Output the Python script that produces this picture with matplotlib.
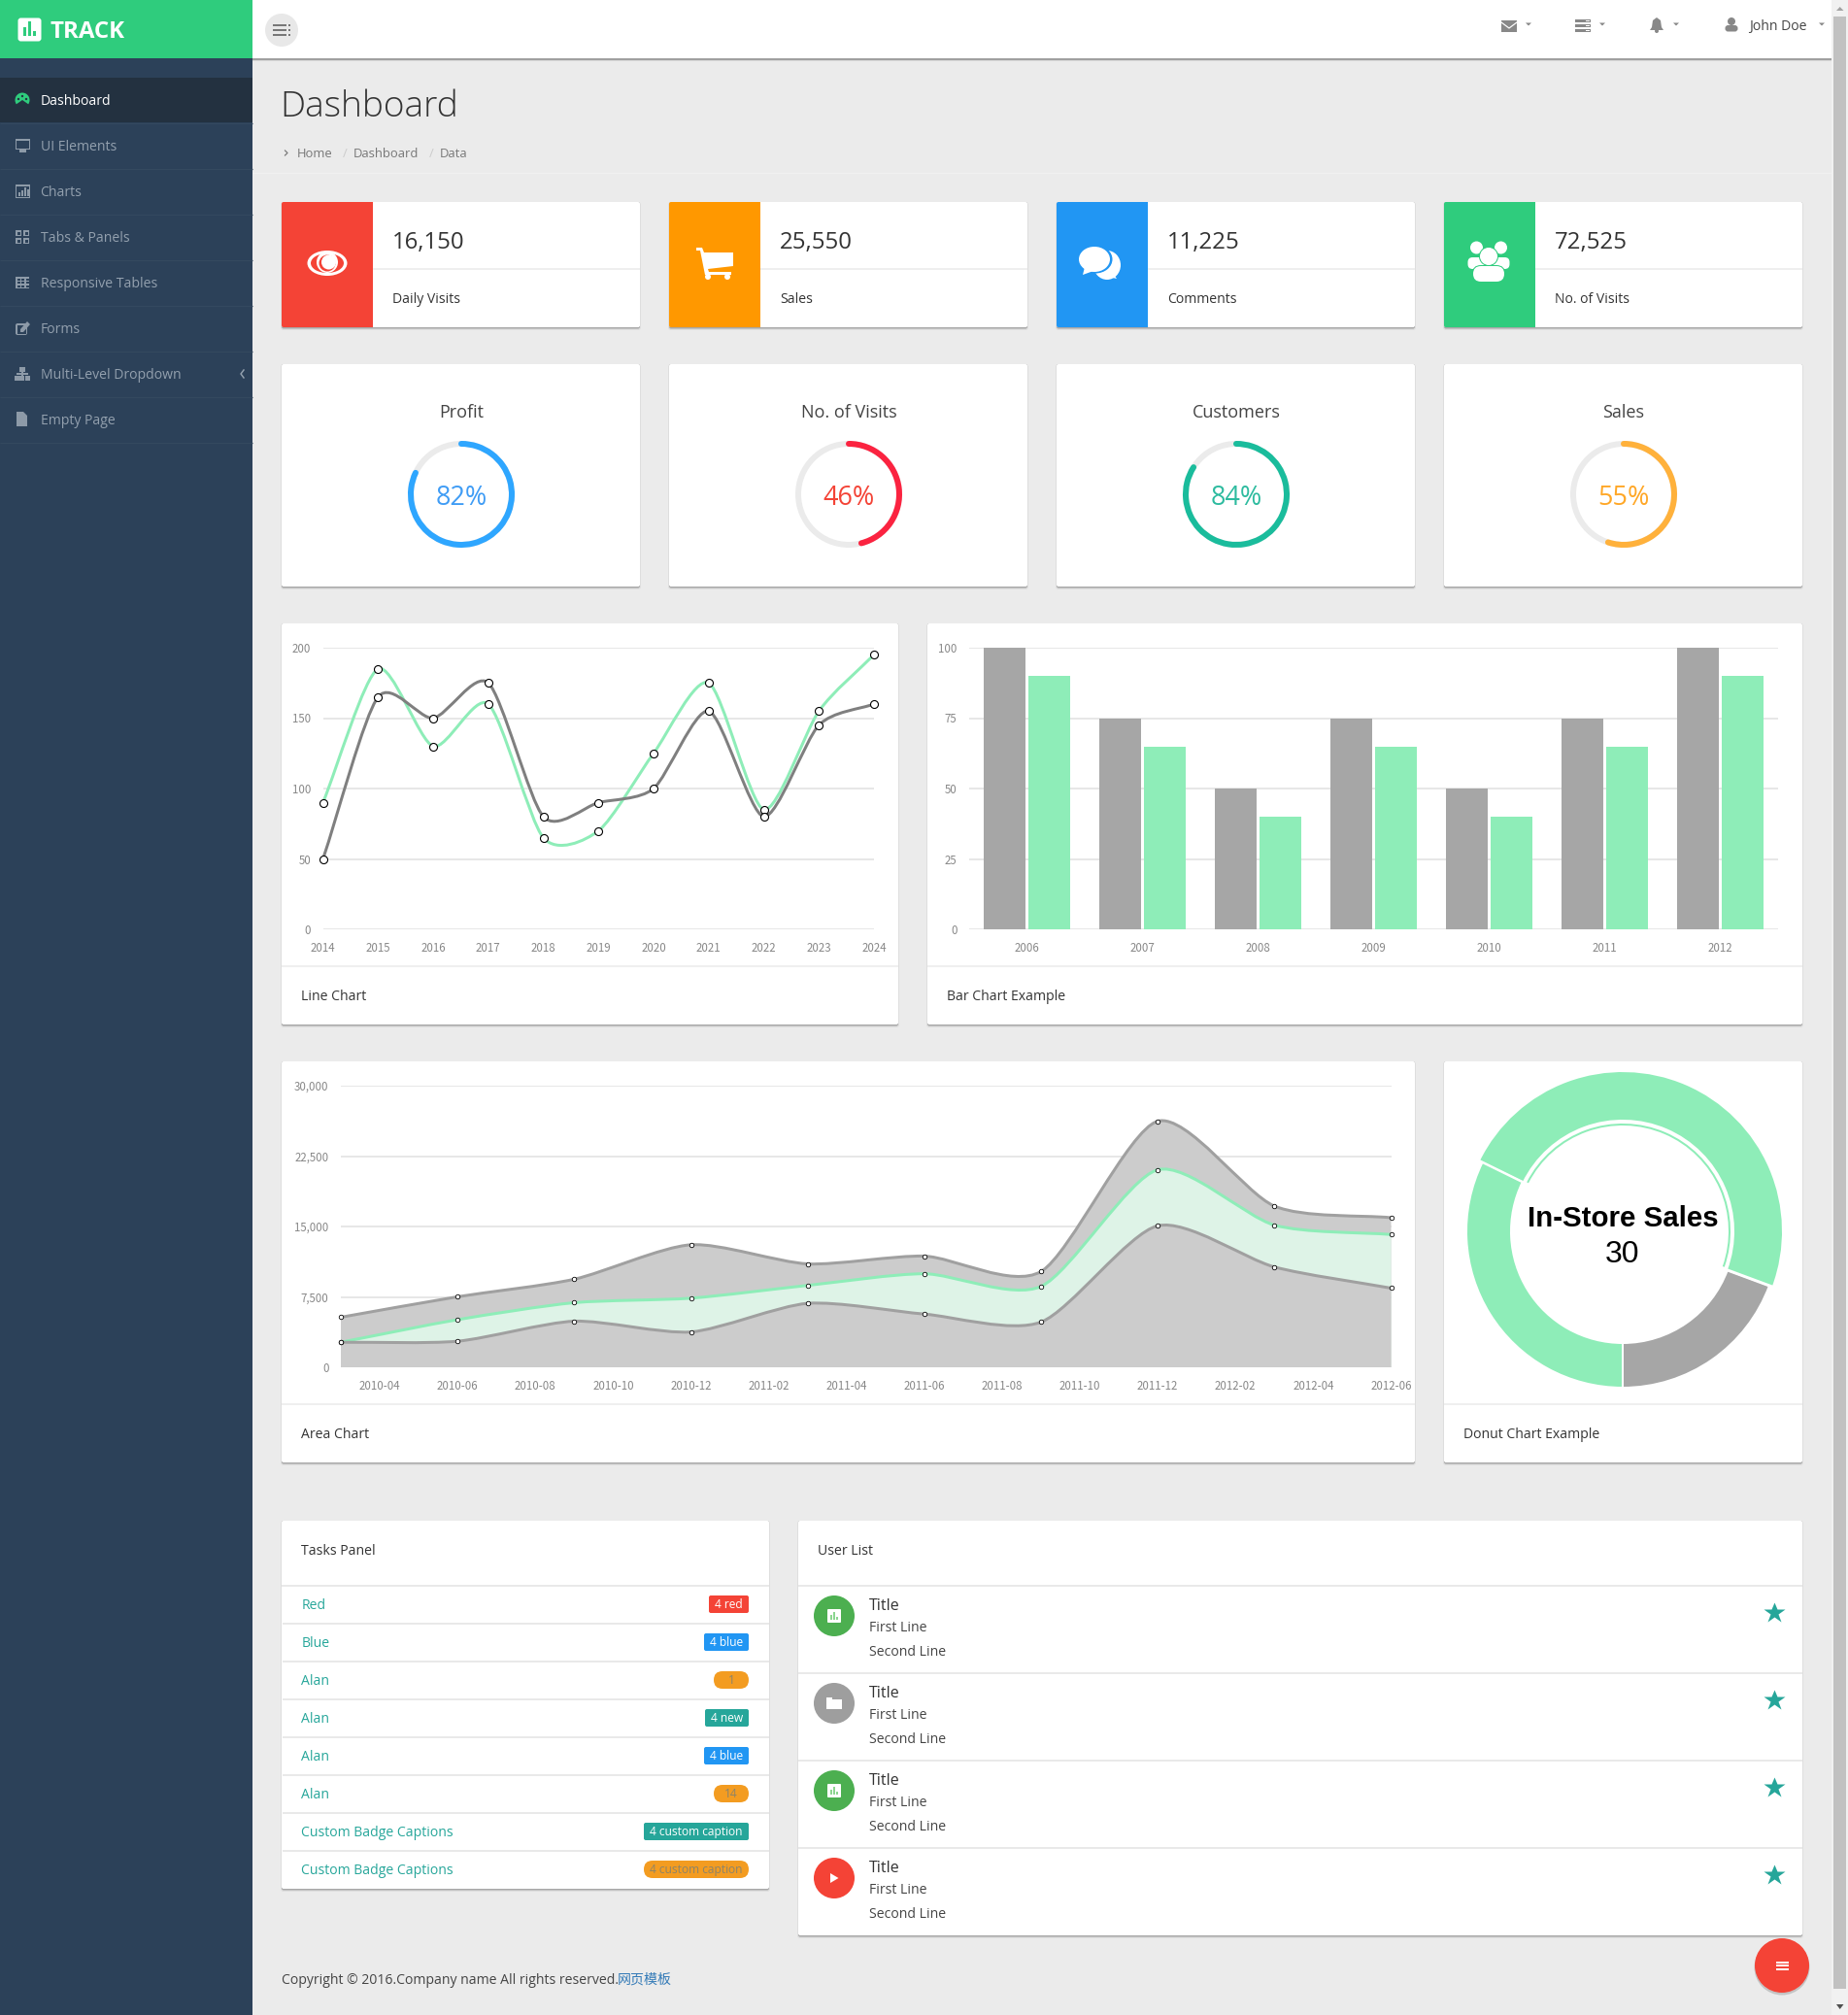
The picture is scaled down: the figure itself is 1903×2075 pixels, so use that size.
import numpy as np
import matplotlib
matplotlib.use('Agg')
import matplotlib.pyplot as plt
from matplotlib.patches import Rectangle, FancyBboxPatch, Circle, Ellipse, Arc, Wedge, Polygon, PathPatch
from matplotlib.path import Path

W, H = 1903, 2075
UI_FONT = ['Open Sans', 'DejaVu Sans']
TICK_FONT = ['Noto Sans CJK SC', 'DejaVu Sans']
CJK_FONT = ['Noto Sans CJK SC', 'DejaVu Sans']

GREEN = '#8eedb8'
GRAY = '#a6a6a6'
TEAL = '#26a69a'
PAGE_BG = '#ebebeb'
SIDE_BG = '#2c4159'
BRAND = '#2fcc7d'

MENU_ITEMS = ['Dashboard', 'UI Elements', 'Charts', 'Tabs & Panels', 'Responsive Tables',
              'Forms', 'Multi-Level Dropdown', 'Empty Page']
STAT_VALUES = ['16,150', '25,550', '11,225', '72,525']
STAT_LABELS = ['Daily Visits', 'Sales', 'Comments', 'No. of Visits']
STAT_COLORS = ['#f44336', '#ff9800', '#2196f3', BRAND]

GAUGE_TITLES = ['Profit', 'No. of Visits', 'Customers', 'Sales']
GAUGE_VALUES = [82, 46, 84, 55]
GAUGE_COLORS = ['#2ea6ff', '#fb2340', '#1abc9c', '#ffb13b']
GAUGE_TEXT_COLORS = ['#3f9cf5', '#f44336', '#2dbb9f', '#ffa726']

LINE_YEARS = [2014, 2015, 2016, 2017, 2018, 2019, 2020, 2021, 2022, 2023, 2024]
LINE_GREEN = [90, 185, 130, 160, 65, 70, 125, 175, 85, 155, 195]
LINE_GRAY = [50, 165, 150, 175, 80, 90, 100, 155, 80, 145, 160]
LINE_TICKS = [0, 50, 100, 150, 200]

BAR_YEARS = ['2006', '2007', '2008', '2009', '2010', '2011', '2012']
BAR_GRAY = [100, 75, 50, 75, 50, 75, 100]
BAR_GREEN = [90, 65, 40, 65, 40, 65, 90]
BAR_TICKS = [0, 25, 50, 75, 100]

AREA_DATES = ['2010-03', '2010-06', '2010-09', '2010-12', '2011-03',
              '2011-06', '2011-09', '2011-12', '2012-03', '2012-06']
AREA_BOTTOM = [2666, 2778, 4912, 3767, 6810, 5670, 4820, 15073, 10687, 8432]
AREA_MIDDLE = [0, 2294, 1969, 3597, 1914, 4293, 3795, 5967, 4460, 5713]
AREA_UPPER = [2666, 2441, 2501, 5689, 2293, 1881, 1588, 5175, 2028, 1791]
AREA_TICKS = [0, 7500, 15000, 22500, 30000]
AREA_LABELS = ['2010-04', '2010-06', '2010-08', '2010-10', '2010-12', '2011-02', '2011-04',
               '2011-06', '2011-08', '2011-10', '2011-12', '2012-02', '2012-04', '2012-06']

DONUT_LABELS = ['Download Sales', 'In-Store Sales', 'Mail-Order Sales']
DONUT_VALUES = [12, 30, 20]
DONUT_COLORS = [GRAY, GREEN, GREEN]

TASK_NAMES = ['Red', 'Blue', 'Alan', 'Alan', 'Alan', 'Alan', 'Custom Badge Captions', 'Custom Badge Captions']
TASK_BADGES = ['4 red', '4 blue', '1', '4 new', '4 blue', '14', '4 custom caption', '4 custom caption']
TASK_COLORS = ['#f44336', '#2196f3', '#f39c21', TEAL, '#2196f3', '#f39c21', TEAL, '#f39c21']
BADGE_WIDTHS = [41, 46, 36, 45, 46, 36, 108, 108]

USER_COLORS = ['#4caf50', '#9e9e9e', '#4caf50', '#f44336']
USER_ICONS = ['chart', 'folder', 'chart', 'play']


def fs(px):
    return px * 0.72


def axes_px(x0, y0, x1, y1):
    return fig.add_axes([x0 / W, 1 - y1 / H, (x1 - x0) / W, (y1 - y0) / H])


def smooth_path(x, y):
    # hermite segments, same tangents as the morris charts in the page
    x = np.asarray(x, dtype=float)
    y = np.asarray(y, dtype=float)
    grad = np.gradient(y, x, edge_order=1)
    grad[1:-1] = (y[2:] - y[:-2]) / (x[2:] - x[:-2])
    verts = [(x[0], y[0])]
    codes = [Path.MOVETO]
    for i in range(1, len(x)):
        ix = (x[i] - x[i - 1]) / 4
        verts += [(x[i - 1] + ix, y[i - 1] + ix * grad[i - 1]),
                  (x[i] - ix, y[i] - ix * grad[i]),
                  (x[i], y[i])]
        codes += [Path.CURVE4] * 3
    return verts, codes


def text(x, y, s, px=14, color='#333333', ha='left', weight='normal', family=None):
    bg.text(x, y - 0.6, s, fontsize=fs(px), color=color, ha=ha, va='center_baseline', fontweight=weight,
            family=family or UI_FONT)


def rect(x0, y0, x1, y1, color, z=2):
    bg.add_patch(Rectangle((x0, y0), x1 - x0, y1 - y0, fc=color, ec='none', zorder=z))


def rbox(x0, y0, x1, y1, color, r=2, z=2):
    bg.add_patch(FancyBboxPatch((x0, y0), x1 - x0, y1 - y0, boxstyle=f'round,pad=0,rounding_size={r}',
                                fc=color, ec='none', zorder=z))


def circle(x, y, r, color, z=3):
    bg.add_patch(Circle((x, y), r, fc=color, ec='none', zorder=z))


def poly(points, color, z=3):
    bg.add_patch(Polygon(points, closed=True, fc=color, ec='none', zorder=z))


def card(x0, y0, x1, y1):
    rbox(x0 - 1, y0, x1 + 1, y1 + 3, '#dedede', 3, 1)
    rbox(x0, y0, x1, y1 + 1.5, '#a8a8a8', 2, 1.2)
    rbox(x0, y0, x1, y1, 'white', 2, 1.5)


def hline(x0, x1, y, color='#eaeaea', lw=1.5, z=2.5):
    bg.plot([x0, x1], [y, y], color=color, lw=fs(lw), zorder=z, solid_capstyle='butt')


def style_chart(ax):
    ax.patch.set_alpha(0)
    for s in ax.spines.values():
        s.set_visible(False)
    ax.grid(axis='y', color='#e0e0e0', lw=fs(1.5), zorder=0)
    ax.set_axisbelow(True)
    ax.tick_params(length=0, labelsize=fs(11.5), labelcolor='#888888')
    ax.tick_params(axis='y', pad=fs(12.5))
    ax.tick_params(axis='x', pad=fs(13))
    for lab in ax.get_xticklabels() + ax.get_yticklabels():
        lab.set_family(TICK_FONT)


def month_number(s):
    year, month = s.split('-')
    return int(year) * 12 + int(month)


def menu_icon(i, cx, cy, c):
    if i == 0:
        bg.add_patch(Wedge((cx, cy), 7.5, 145, 395, fc=c, ec='none', zorder=4))
        circle(cx, cy - 4, 1.2, '#233140', 5)
        circle(cx - 4, cy - 1, 1.2, '#233140', 5)
        circle(cx + 4, cy - 1, 1.2, '#233140', 5)
    elif i == 1:
        rect(cx - 7.5, cy - 7, cx + 8, cy + 4, c, 4)
        rect(cx - 6, cy - 5.5, cx + 6.5, cy + 2.5, SIDE_BG, 5)
        rect(cx - 3, cy + 4, cx + 3.5, cy + 7, c, 4)
    elif i == 2:
        rect(cx - 7.5, cy - 7, cx + 8, cy + 7, c, 4)
        rect(cx - 6, cy - 5.5, cx + 6.5, cy + 5.5, SIDE_BG, 5)
        for dx, h in [(-4, 4), (-1, 6), (2, 9), (4.5, 7)]:
            rect(cx + dx, cy + 5 - h, cx + dx + 2, cy + 5, c, 6)
    elif i == 3:
        for dx, dy in [(-7, -7), (1, -7), (-7, 1), (1, 1)]:
            rect(cx + dx, cy + dy, cx + dx + 6, cy + dy + 6, c, 4)
            rect(cx + dx + 1.5, cy + dy + 1.5, cx + dx + 4.5, cy + dy + 4.5, SIDE_BG, 5)
    elif i == 4:
        rect(cx - 7, cy - 6, cx + 7, cy + 6, c, 4)
        for dx in [-5.5, -1, 3.5]:
            for dy in [-4.5, -1, 2.5]:
                rect(cx + dx, cy + dy, cx + dx + 3, cy + dy + 2.3, SIDE_BG, 5)
    elif i == 5:
        rbox(cx - 7, cy - 5, cx + 5, cy + 7, c, 2, 4)
        rect(cx - 5.5, cy - 3.5, cx + 3.5, cy + 5.5, SIDE_BG, 5)
        poly([(cx - 2, cy + 1), (cx + 5, cy - 7), (cx + 8, cy - 4), (cx + 1, cy + 4), (cx - 2, cy + 4)], c, 6)
    elif i == 6:
        rect(cx - 3, cy - 7, cx + 3, cy - 2, c, 4)
        rect(cx - 0.7, cy - 2, cx + 0.7, cy + 2, c, 4)
        rect(cx - 6, cy - 1, cx + 6, cy + 1, c, 4)
        for dx in [-8, -3, 3]:
            rect(cx + dx, cy + 2, cx + dx + 5, cy + 7, c, 4)
    else:
        poly([(cx - 6, cy - 8), (cx + 1, cy - 8), (cx + 5, cy - 4), (cx + 5, cy + 7), (cx - 6, cy + 7)], c, 4)


def stat_icon(i, cx, cy, bgc):
    if i == 0:
        bg.add_patch(Ellipse((cx, cy), 41, 26, fc='white', ec='none', zorder=4))
        bg.add_patch(Ellipse((cx, cy), 34, 20, fc=bgc, ec='none', zorder=5))
        circle(cx, cy - 1, 11, 'white', 6)
        circle(cx, cy, 8.5, bgc, 7)
        circle(cx + 1.5, cy - 1, 7.5, 'white', 8)
    elif i == 1:
        cx, cy = 736, 271
        poly([(cx - 19, cy - 16), (cx - 13, cy - 16), (cx - 11, cy - 11), (cx + 19, cy - 11), (cx + 19, cy + 3),
              (cx - 7, cy + 6), (cx - 6, cy + 9), (cx + 17, cy + 9), (cx + 17, cy + 12), (cx - 10, cy + 12),
              (cx - 15, cy - 13), (cx - 19, cy - 13)], 'white', 4)
        circle(cx - 7, cy + 14, 3, 'white', 4)
        circle(cx + 13, cy + 14, 3, 'white', 4)
    elif i == 2:
        cx, cy = 1131, 270
        bg.add_patch(Ellipse((cx + 9, cy + 3), 28, 30, fc='white', ec='none', zorder=4))
        poly([(cx + 6, cy + 14), (cx + 19, cy + 17), (cx + 14, cy + 10)], 'white', 4)
        bg.add_patch(Ellipse((cx - 3, cy - 3), 35, 29, fc=bgc, ec='none', zorder=5))
        bg.add_patch(Ellipse((cx - 4, cy - 3), 32, 26, fc='white', ec='none', zorder=6))
        poly([(cx - 14, cy + 5), (cx - 16, cy + 13), (cx - 5, cy + 9)], 'white', 6)
    else:
        cx, cy = 1533, 272
        for dx in [-12.5, 12.5]:
            rbox(cx + dx - 9, cy - 7, cx + dx + 9, cy + 5, 'white', 5, 4)
            circle(cx + dx, cy - 17, 6.5, 'white', 4)
        circle(cx, cy - 8, 10, bgc, 5)
        circle(cx, cy - 8, 9, 'white', 6)
        rbox(cx - 17, cy + 1, cx + 17, cy + 19, bgc, 9, 5)
        rbox(cx - 16, cy + 2, cx + 16, cy + 18, 'white', 8, 6)


def header_icon(kind, cx, cy, c='#888888'):
    if kind == 'mail':
        rect(cx - 8, cy - 6, cx + 8, cy + 6, c, 4)
        bg.plot([cx - 8, cx, cx + 8], [cy - 4, cy + 2, cy - 4], color='white', lw=fs(1.2), zorder=5)
    elif kind == 'server':
        for dy in [-6.5, -1.5, 3.5]:
            rect(cx - 8, cy + dy, cx + 8, cy + dy + 3.6, c, 4)
            rect(cx + 3, cy + dy + 1, cx + 6.5, cy + dy + 2.4, 'white', 5)
    elif kind == 'bell':
        poly([(cx - 7, cy + 5), (cx - 5, cy + 2), (cx - 4, cy - 5), (cx, cy - 8), (cx + 4, cy - 5), (cx + 5, cy + 2),
              (cx + 7, cy + 5)], c, 4)
        circle(cx, cy + 6, 2, c, 4)
    else:
        circle(cx, cy - 4, 4, c, 4)
        rbox(cx - 6.5, cy, cx + 6.5, cy + 6.5, c, 3, 4)


def caret(cx, cy, c='#888888'):
    poly([(cx - 3, cy - 1.5), (cx + 3, cy - 1.5), (cx, cy + 1.5)], c, 4)


def user_icon(kind, cx, cy, c):
    if kind == 'chart':
        rbox(cx - 7, cy - 7, cx + 7, cy + 7, 'white', 1, 4)
        for dx, h in [(-3, 5), (0, 8), (3, 3)]:
            rect(cx + dx - 0.6, cy + 4 - h, cx + dx + 0.6, cy + 4, '#8cd690', 5)
    elif kind == 'folder':
        rect(cx - 8, cy - 6, cx - 2, cy - 3, 'white', 4)
        rect(cx - 8, cy - 4, cx + 8, cy + 6, 'white', 4)
    else:
        poly([(cx - 4, cy - 5), (cx + 4.5, cy), (cx - 4, cy + 5)], 'white', 4)


fig = plt.figure(figsize=(W / 100, H / 100), dpi=100, facecolor=PAGE_BG)
bg = axes_px(0, 0, W, H)
bg.set_xlim(0, W)
bg.set_ylim(H, 0)
bg.axis('off')

# sidebar and header
rect(0, 0, 260, H, SIDE_BG, 1)
rect(0, 0, 260, 60, BRAND, 2)
rect(0, 80, 260, 126, '#233140', 2)
rect(260, 0, 1886, 60, 'white', 1)
rect(260, 60, 1886, 61.5, '#a0a0a0', 1)
rect(260, 61.5, 1886, 62.5, '#d8d8d8', 1)
rbox(18.5, 18.5, 42.5, 42.5, 'white', 3, 3)
for dx, h in [(-5, 9), (0, 15), (5, 5)]:
    rect(30.5 + dx - 1.2, 37 - h, 30.5 + dx + 1.2, 37, BRAND, 4)
text(51, 30.5, 'TRACK', 24, 'white', weight='bold')
circle(290, 31, 17, '#e8e8e8', 2)
for dy in [-5, 0, 5]:
    rect(281, 31 + dy - 1, 295, 31 + dy + 1, '#777777', 3)
    rect(296.5, 31 + dy - 1, 299, 31 + dy + 1, '#777777', 3)

for i, name in enumerate(MENU_ITEMS):
    cy = 103 + 47 * i
    hline(0, 260, 126.5 + 47 * i, '#34495f', 1.2)
    active = i == 0
    text(41.5, cy, name, 14, 'white' if active else '#93a0ae')
    menu_icon(i, 23, cy, BRAND if active else '#8d9aa8')
bg.plot([251, 248, 251], [381, 385, 389], color='#93a0ae', lw=fs(1.5), zorder=4)

for kind, cx, cy in [('mail', 1554, 27), ('server', 1630, 26), ('bell', 1706, 26), ('user', 1783, 26)]:
    header_icon(kind, cx, cy)
for cx in [1574, 1650, 1726, 1876]:
    caret(cx, 25)
text(1801, 26.5, 'John Doe', 14, '#444444')

# scrollbar
rect(1886, 0, 1903, H, '#f1f1f1', 2)
rect(1888, 17, 1901, 2048, '#c1c1c1', 3)
poly([(1891, 11), (1898.5, 11), (1894.7, 7)], '#a3a3a3', 4)
poly([(1891, 2064), (1898.5, 2064), (1894.7, 2069)], '#505050', 4)

# page title
text(288.5, 107, 'Dashboard', 37, '#333333', weight='light')
bg.plot([293.5, 296, 293.5], [155, 157.5, 160], color='#777777', lw=fs(1.2), zorder=4)
for x, s in [(306, 'Home'), (353, '/'), (364, 'Dashboard'), (442, '/'), (453, 'Data')]:
    text(x, 158, s, 13, '#cccccc' if s == '/' else '#777777')
hline(260, 1886, 178, '#f1f1f1', 1)

card_xs = [290, 689, 1088, 1487]

# stat cards
for i, x in enumerate(card_xs):
    card(x, 208, x + 369, 337)
    rbox(x, 208, x + 60, 337, STAT_COLORS[i], 2, 2)
    rect(x + 30, 208, x + 94, 337, STAT_COLORS[i], 2)
    hline(x + 94, x + 369, 276.5)
    text(x + 114, 248, STAT_VALUES[i], 24, '#333333')
    text(x + 114, 307, STAT_LABELS[i], 14, '#333333')
    stat_icon(i, x + 47, 271, STAT_COLORS[i])

# gauges
for i, x in enumerate(card_xs):
    card(x, 375, x + 369, 604)
    cx = x + 185
    text(cx, 424, GAUGE_TITLES[i], 18, '#444444', ha='center')
    bg.add_patch(Arc((cx, 509), 104, 104, theta1=0, theta2=360, color='#ebebeb', lw=fs(6), zorder=3))
    bg.add_patch(Arc((cx, 509), 104, 104, theta1=-90, theta2=-90 + 3.6 * GAUGE_VALUES[i], color=GAUGE_COLORS[i],
                     lw=fs(6), zorder=4, capstyle='round'))
    text(cx, 510, f'{GAUGE_VALUES[i]}%', 27, GAUGE_TEXT_COLORS[i], ha='center')

# line chart
card(290, 642, 925, 1055)
hline(290, 925, 994.5)
text(310, 1025, 'Line Chart', 14, '#333333')
ax = axes_px(332.6, 667, 900, 957)
ax.set_xlim(LINE_YEARS[0], LINE_YEARS[-1])
ax.set_ylim(0, 200)
ax.set_xticks(LINE_YEARS)
ax.set_yticks(LINE_TICKS)
style_chart(ax)
for values, color in [(LINE_GREEN, GREEN), (LINE_GRAY, '#7f7f7f')]:
    verts, codes = smooth_path(LINE_YEARS, values)
    ax.add_patch(PathPatch(Path(verts, codes), fc='none', ec=color, lw=fs(3), zorder=3, clip_on=False))
for values in [LINE_GREEN, LINE_GRAY]:
    ax.plot(LINE_YEARS, values, ls='none', marker='o', ms=fs(8), mfc='white', mec='black', mew=fs(1.1),
            zorder=4, clip_on=False)

# bar chart
card(955, 642, 1856, 1055)
hline(955, 1856, 994.5)
text(975, 1025, 'Bar Chart Example', 14, '#333333')
ax = axes_px(998, 667, 1831, 957)
pos = np.arange(len(BAR_YEARS))
ax.bar(pos - 0.192, BAR_GRAY, width=0.362, color=GRAY, zorder=2)
ax.bar(pos + 0.192, BAR_GREEN, width=0.362, color=GREEN, zorder=2)
ax.set_xlim(-0.5, len(BAR_YEARS) - 0.5)
ax.set_ylim(0, 100)
ax.set_xticks(pos, BAR_YEARS)
ax.set_yticks(BAR_TICKS)
style_chart(ax)

# area chart
card(290, 1093, 1457, 1506)
hline(290, 1457, 1445.5)
text(310, 1476, 'Area Chart', 14, '#333333')
ax = axes_px(351, 1118, 1432.5, 1408)
months = np.array([month_number(d) for d in AREA_DATES], dtype=float)
stack = np.cumsum([AREA_BOTTOM, AREA_MIDDLE, AREA_UPPER], axis=0)
area_fills = ['#cccccc', '#def3e7', '#cccccc']
area_lines = ['#a0a0a0', GREEN, '#a0a0a0']
for j in [2, 1, 0]:
    verts, codes = smooth_path(months, stack[j])
    fill_verts = verts + [(months[-1], 0), (months[0], 0), verts[0]]
    fill_codes = codes + [Path.LINETO, Path.LINETO, Path.CLOSEPOLY]
    ax.add_patch(PathPatch(Path(fill_verts, fill_codes), fc=area_fills[j], ec='none', zorder=2))
for j in [2, 1, 0]:
    verts, codes = smooth_path(months, stack[j])
    ax.add_patch(PathPatch(Path(verts, codes), fc='none', ec=area_lines[j], lw=fs(3), zorder=3))
    ax.plot(months, stack[j], ls='none', marker='o', ms=fs(4.5), mfc='white', mec='black', mew=fs(0.8),
            zorder=4, clip_on=False)
ax.set_xlim(months[0], months[-1])
ax.set_ylim(0, 30000)
ax.set_xticks([month_number(d) for d in AREA_LABELS], AREA_LABELS)
ax.set_yticks(AREA_TICKS, [f'{v:,}' for v in AREA_TICKS])
style_chart(ax)

# donut
card(1487, 1093, 1856, 1506)
hline(1487, 1856, 1445.5)
text(1507, 1476, 'Donut Chart Example', 14, '#333333')
ax = axes_px(1501, 1098, 1841, 1438)
ax.set_xlim(-170, 170)
ax.set_ylim(-170, 170)
ax.axis('off')
start = 270.0
selected = DONUT_VALUES.index(max(DONUT_VALUES))
for j, value in enumerate(DONUT_VALUES):
    sweep = value / sum(DONUT_VALUES) * 360
    if j == selected:
        ax.add_patch(Wedge((0, 0), 165.5, start, start + sweep, width=52, fc=DONUT_COLORS[j], ec='white', lw=fs(3)))
        ax.add_patch(Arc((0, 0), 220, 220, theta1=start + 1, theta2=start + sweep - 1, color=DONUT_COLORS[j],
                         lw=fs(2)))
    else:
        ax.add_patch(Wedge((0, 0), 161, start, start + sweep, width=46, fc=DONUT_COLORS[j], ec='white', lw=fs(2)))
    start += sweep
ax.text(0, 16, DONUT_LABELS[selected], fontsize=fs(29.5), fontweight='bold', family='Liberation Sans', color='black',
        ha='center', va='center_baseline')
ax.text(0, -21, str(DONUT_VALUES[selected]), fontsize=fs(32), family='Liberation Sans', color='black',
        ha='center', va='center_baseline')

# tasks panel
card(290, 1566, 792, 1945)
text(310, 1596, 'Tasks Panel', 14, '#333333')
hline(290, 792, 1632.5, '#e2e2e2')
for i, name in enumerate(TASK_NAMES):
    cy = 1652 + 39 * i
    if i:
        hline(291, 791.5, 1632.5 + 39 * i, '#e2e2e2')
    text(310.5, cy, name, 14, TEAL)
    color = TASK_COLORS[i]
    orange = color == '#f39c21'
    x1 = 771
    x0 = x1 - BADGE_WIDTHS[i]
    rbox(x0, cy - 9, x1, cy + 9, color, 9 if orange else 2, 3)
    text((x0 + x1) / 2, cy, TASK_BADGES[i], 12, '#8d8468' if orange else 'white', ha='center')
    bg.texts[-1].set_zorder(5)

# user list
card(822, 1566, 1856, 1993)
text(842, 1596, 'User List', 14, '#333333')
for i, color in enumerate(USER_COLORS):
    top = 90 * i
    hline(822, 1856, 1632.5 + top, '#e2e2e2')
    circle(859, 1664 + top, 21, color)
    user_icon(USER_ICONS[i], 859, 1664 + top, color)
    text(895, 1652.5 + top, 'Title', 16, '#333333')
    text(895, 1675 + top, 'First Line', 14, '#444444')
    text(895, 1700 + top, 'Second Line', 14, '#444444')
    bg.plot([1827], [1660.5 + top], marker='*', ms=fs(23), mfc=TEAL, mec='none', zorder=4)

# footer
text(290, 2038, 'Copyright © 2016.Company name All rights reserved.', 14, '#444444')
text(636, 2038, '网页模板', 14, '#337ab7', family=CJK_FONT)
circle(1835, 2026, 28.5, '#c4c4c4', 4)
circle(1835, 2024, 28, '#f44336', 5)
for dy in [-3.5, 0, 3.5]:
    rect(1829, 2024 + dy - 1, 1841.5, 2024 + dy + 1, 'white', 6)

fig.savefig('out.png', dpi=100, facecolor=PAGE_BG)
